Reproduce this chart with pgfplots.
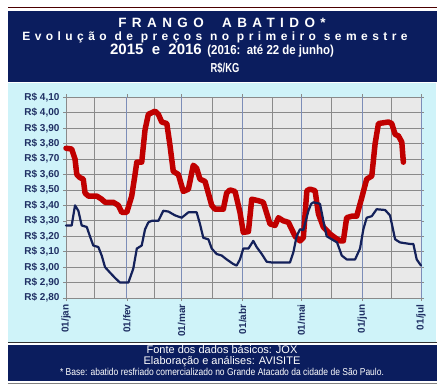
\documentclass[border=0pt]{standalone}
\usepackage{pgfplots}
\pgfplotsset{compat=1.18}
\usepackage{fontspec}
\setmainfont{Liberation Sans}
\newfontfamily\wideA[LetterSpace=40]{Liberation Sans}
\newfontfamily\wideB[LetterSpace=37]{Liberation Sans}
\definecolor{navybox}{HTML}{0B1D5E}
\definecolor{panel}{HTML}{CFF3F9}
\definecolor{labnavy}{HTML}{1F2F63}
\definecolor{redline}{HTML}{C00000}
\definecolor{blueline}{HTML}{14215A}
\definecolor{plotbg}{HTML}{E9E9E9}
\definecolor{gridgray}{HTML}{8A8A8A}
\definecolor{gridblue}{HTML}{7C8DB8}
\begin{document}
\begin{tikzpicture}
\begin{scope}[x=1pt,y=1pt]
\fill[white] (0,0) rectangle (443,388);
\draw[color=black!70!red, line width=1pt] (8,380) -- (437,380);
\fill[navybox] (8,376.5) rectangle (437,306);
\fill[panel] (8,305) rectangle (436,46.5);
\draw[black!80, line width=0.8pt] (8,46)--(437,46);
\fill[navybox] (8,43) rectangle (437,7);
\draw[gray, line width=0.6pt] (8,5)--(437,5);
\node[white, font=\wideA\bfseries\fontsize{13.5}{14}\selectfont] at (222,365) {FRANGO\ \ ABATIDO*};
\node[white, font=\wideB\bfseries\fontsize{12}{13}\selectfont] at (215,351) {Evolução de preços no primeiro semestre};
\node[white, anchor=base, font=\bfseries, inner sep=0pt] at (222,333) {{\fontsize{15}{16}\selectfont 2015\ \ e\ \ 2016}\ \ \scalebox{0.88}[1]{\fontsize{13}{14}\selectfont (2016:\ \ até 22 de junho)}};
\node[white, anchor=base, font=\bfseries, inner sep=0pt] at (225,315) {\scalebox{0.72}[1]{\fontsize{13}{14}\selectfont R\$/KG}};
\node[white, anchor=base, inner sep=0pt, font=\fontsize{11}{12}\selectfont] at (222,35) {Fonte dos dados básicos: JOX};
\node[white, anchor=base, inner sep=0pt, font=\fontsize{11}{12}\selectfont] at (222,24) {Elaboração e análises: AVISITE};
\node[white, anchor=base, inner sep=0pt, font=\fontsize{10}{11}\selectfont] at (222,13) {\scalebox{0.85}[1]{* Base: abatido resfriado comercializado no Grande Atacado da cidade de São Paulo.}};
\end{scope}
\begin{axis}[
  at={(66pt,90pt)}, anchor=south west, scale only axis,
  width=355pt, height=200.7pt,
  xmin=0, xmax=181, ymin=2.8, ymax=4.1,
  axis background/.style={fill=plotbg},
  axis line style={gridgray, line width=0.7pt},
  xtick={0,31,59,90,120,151,181},
  xticklabels={01/jan,01/fev,01/mar,01/abr,01/mai,01/jun,01/jul},
  minor xtick={14.5,45,74.5,105,135.5,166},
  ytick={2.8,2.9,3.0,3.1,3.2,3.3,3.4,3.5,3.6,3.7,3.8,3.9,4.0,4.1},
  yticklabel={R\$ \pgfmathprintnumber[fixed,fixed zerofill,precision=2,use comma,assume math mode=true]{\tick}},
  x tick label style={rotate=90, anchor=east, font=\bfseries\fontsize{10}{10}\selectfont, text=labnavy},
  y tick label style={font=\bfseries\fontsize{10}{10}\selectfont, text=labnavy},
  tick align=outside, major tick length=3pt, minor tick length=0pt,
  tick style={gridgray, line width=0.6pt},
  ymajorgrids=true, xminorgrids=true,
  major grid style={gridgray, line width=0.7pt},
  minor grid style={gridgray, line width=0.7pt},
  extra x ticks={31,59,90,120,151,181},
  extra x tick labels={},
  extra x tick style={xmajorgrids=true, major grid style={gridblue, line width=0.9pt}, major tick length=0pt},
  clip=false,
]
\addplot[redline, line width=5.5pt, line join=round, line cap=round] coordinates {
(0,3.77)(2.9,3.765)(4.6,3.70)(5.5,3.60)(7.1,3.58)(8.8,3.57)(9.7,3.48)(11.4,3.46)(15.7,3.46)(18.2,3.44)(19.9,3.42)(24.1,3.42)(26.7,3.40)(28.4,3.355)(31.0,3.355)(33.5,3.46)(35.2,3.60)(36.1,3.68)(38.6,3.68)(40.3,3.89)(42.0,3.99)(45.4,4.01)(47.1,3.99)(48.8,3.94)(51.4,3.93)(53.0,3.79)(54.7,3.62)(57.3,3.60)(59.8,3.49)(62.4,3.505)(64.9,3.66)(66.6,3.64)(68.3,3.57)(70.9,3.555)(74.3,3.40)(76.0,3.375)(80.2,3.375)(81.9,3.48)(83.6,3.50)(86.2,3.49)(88.7,3.355)(90.4,3.225)(93.0,3.23)(94.7,3.44)(98.1,3.43)(100.6,3.42)(104.0,3.28)(106.6,3.27)(108.3,3.32)(110.8,3.30)(113.4,3.29)(116.8,3.20)(119.3,3.17)(121.0,3.19)(122.8,3.495)(124.4,3.505)(127.0,3.495)(128.7,3.345)(131.2,3.26)(134.6,3.215)(137.2,3.19)(139.7,3.17)(141.4,3.17)(143.1,3.32)(145.7,3.33)(148.2,3.33)(150.8,3.45)(153.3,3.57)(155.9,3.59)(157.6,3.80)(159.3,3.93)(164.4,3.94)(166.1,3.93)(167.8,3.86)(169.5,3.85)(171.2,3.81)(172.0,3.68)
};
\addplot[blueline, line width=2.2pt, line join=round, line cap=round] coordinates {
(0,3.27)(2.9,3.27)(4.6,3.40)(6.3,3.365)(8.0,3.27)(10.6,3.26)(12.2,3.20)(13.9,3.14)(16.5,3.13)(18.2,3.075)(19.9,3.00)(22.4,2.965)(25.0,2.93)(27.5,2.90)(31.8,2.90)(34.3,2.99)(36.1,3.12)(38.6,3.14)(40.3,3.245)(42.0,3.29)(43.7,3.30)(47.1,3.30)(49.6,3.365)(52.2,3.36)(55.6,3.335)(59.0,3.32)(62.4,3.355)(66.6,3.355)(68.3,3.28)(70.0,3.19)(72.6,3.18)(74.3,3.12)(76.8,3.085)(79.4,3.075)(81.9,3.05)(85.3,3.02)(87.0,3.01)(88.7,3.05)(90.4,3.12)(93.0,3.12)(95.5,3.17)(97.2,3.13)(99.8,3.085)(102.3,3.035)(104.9,3.03)(114.2,3.03)(115.9,3.095)(117.6,3.20)(119.3,3.245)(121.0,3.24)(123.6,3.365)(125.0,3.41)(126.2,3.42)(129.5,3.41)(131.2,3.30)(132.9,3.20)(135.5,3.18)(138.2,3.16)(140.6,3.075)(143.1,3.05)(147.4,3.05)(149.9,3.12)(151.6,3.245)(153.3,3.32)(155.9,3.33)(158.4,3.375)(162.7,3.37)(165.2,3.335)(167.8,3.18)(170.3,3.16)(175.4,3.15)(177.1,3.15)(178.8,3.05)(181.0,3.01)
};
\end{axis}
\end{tikzpicture}
\end{document}
